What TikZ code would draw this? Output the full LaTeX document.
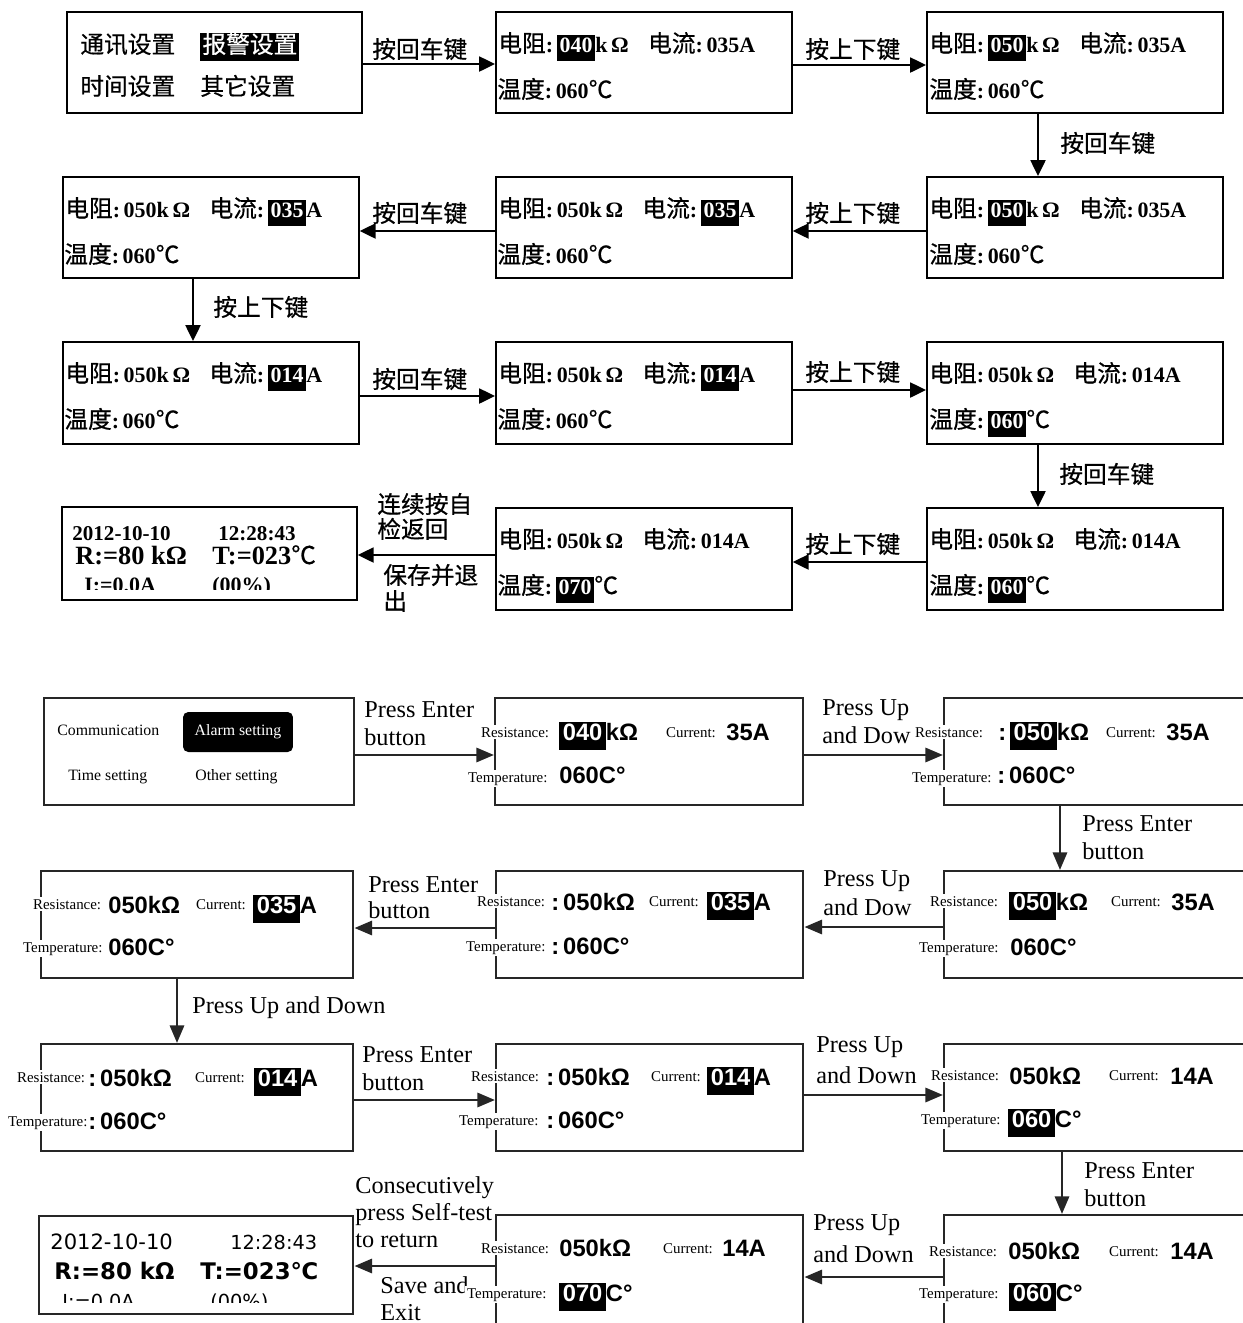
\documentclass[tikz,border=0pt]{standalone}
\usepackage{fontspec}
\setmainfont{Liberation Serif}
\newfontfamily\cjk[UprightFeatures={FakeBold=0.6}]{Noto Sans CJK SC}
\newfontfamily\lsan{Liberation Sans}
\newfontfamily\dvs{DejaVu Sans}
\usetikzlibrary{arrows.meta}
\newcommand\z[1]{{\cjk\mdseries\fontsize{13.5}{16}\selectfont #1}}
\newcommand\hl[1]{{\setlength\fboxsep{0pt}\colorbox{black}{\hspace{1.6pt}\rule[-5pt]{0pt}{14.8pt}\textcolor{white}{#1}\hspace{1.6pt}}}}
\newcommand\hlz[1]{{\setlength\fboxsep{0pt}\colorbox{black}{\hspace{1.2pt}\rule[-4.5pt]{0pt}{15.4pt}\textcolor{white}{#1}\hspace{1.2pt}}}}
\newcommand\hlb[1]{{\setlength\fboxsep{0pt}\colorbox{black}{\hspace{2pt}\rule[-5.5pt]{0pt}{15.5pt}\textcolor{white}{#1}\hspace{2pt}}}}
\newcommand\mkbox[6]{\node[#1, minimum width={(#4-#2)*0.02cm}, minimum height={(#5-#3)*0.02cm}] (#6) at (#2,#3) {};}
\begin{document}
\begin{tikzpicture}[x=0.02cm,y=-0.02cm,
 bx/.style={draw, line width=1pt, inner sep=0, anchor=north west},
 bbx/.style={draw=black!85, line width=1.4pt, inner sep=0, anchor=north west},
 arr/.style={line width=1.2pt, -{Triangle[length=9pt,width=8.5pt]}},
 barr/.style={line width=1.6pt, draw=black!85, -{Triangle[length=10pt,width=8pt]}},
 zt/.style={font=\cjk\fontsize{13.5}{16}\selectfont, inner sep=0, anchor=base west},
 zl/.style={font=\bfseries\fontsize{12.5}{15}\selectfont, inner sep=0, anchor=base west},
 el/.style={font=\fontsize{13.8}{16}\selectfont, inner sep=0, anchor=base west},
 lab/.style={font=\fontsize{8.5}{10}\selectfont, fill=white, inner sep=1pt, anchor=base west},
 val/.style={font=\lsan\bfseries\fontsize{13.5}{16}\selectfont, inner sep=0, anchor=base west},
 mt/.style={font=\fontsize{9}{11}\selectfont, inner sep=0, anchor=base west},
]
\useasboundingbox (0,0) rectangle (1243,1323);
\fill[white] (0,0) rectangle (1243,1323);
\clip (0,0) rectangle (1243,1323);

% ================= TOP HALF =================
\mkbox{bx}{66}{11}{361}{112}{t1}
\mkbox{bx}{495}{11}{791}{112}{t2}
\mkbox{bx}{926}{11}{1222}{112}{t3}
\mkbox{bx}{62}{176}{358}{277}{t4}
\mkbox{bx}{495}{176}{791}{277}{t5}
\mkbox{bx}{926}{176}{1222}{277}{t6}
\mkbox{bx}{62}{341}{358}{443}{t7}
\mkbox{bx}{495}{341}{791}{443}{t8}
\mkbox{bx}{926}{341}{1222}{443}{t9}
\mkbox{bx}{61}{506}{356}{599}{t10}
\mkbox{bx}{495}{507}{791}{609}{t11}
\mkbox{bx}{926}{507}{1222}{609}{t12}

\node[zt] (t1a) at (80,53) {通讯设置};
\node[zt] (t1b) at (200,53) {\hlz{报警设置}};
\node[zt] (t1c) at (80,95) {时间设置};
\node[zt] (t1d) at (200,95) {其它设置};

\node[zl] (t2a) at (498,52) {\z{电阻}:\,\hl{040}k\,Ω\hspace{11pt}\z{电流}:\,035A};
\node[zl] (t2b) at (497,98) {\z{温度}:\,060\z{℃}};
\node[zl] (t3a) at (929,52) {\z{电阻}:\,\hl{050}k\,Ω\hspace{11pt}\z{电流}:\,035A};
\node[zl] (t3b) at (929,98) {\z{温度}:\,060\z{℃}};

\node[zl] (t4a) at (65,217) {\z{电阻}:\,050k\,Ω\hspace{11pt}\z{电流}:\,\hl{035}A};
\node[zl] (t4b) at (64,263) {\z{温度}:\,060\z{℃}};
\node[zl] (t5a) at (498,217) {\z{电阻}:\,050k\,Ω\hspace{11pt}\z{电流}:\,\hl{035}A};
\node[zl] (t5b) at (497,263) {\z{温度}:\,060\z{℃}};
\node[zl] (t6a) at (929,217) {\z{电阻}:\,\hl{050}k\,Ω\hspace{11pt}\z{电流}:\,035A};
\node[zl] (t6b) at (929,263) {\z{温度}:\,060\z{℃}};

\node[zl] (t7a) at (65,382) {\z{电阻}:\,050k\,Ω\hspace{11pt}\z{电流}:\,\hl{014}A};
\node[zl] (t7b) at (64,428) {\z{温度}:\,060\z{℃}};
\node[zl] (t8a) at (498,382) {\z{电阻}:\,050k\,Ω\hspace{11pt}\z{电流}:\,\hl{014}A};
\node[zl] (t8b) at (497,428) {\z{温度}:\,060\z{℃}};
\node[zl] (t9a) at (929,382) {\z{电阻}:\,050k\,Ω\hspace{11pt}\z{电流}:\,014A};
\node[zl] (t9b) at (929,428) {\z{温度}:\,\hl{060}\z{℃}};

\node[zl] (t11a) at (498,548) {\z{电阻}:\,050k\,Ω\hspace{11pt}\z{电流}:\,014A};
\node[zl] (t11b) at (497,594) {\z{温度}:\,\hl{070}\z{℃}};
\node[zl] (t12a) at (929,548) {\z{电阻}:\,050k\,Ω\hspace{11pt}\z{电流}:\,014A};
\node[zl] (t12b) at (929,594) {\z{温度}:\,\hl{060}\z{℃}};

\node[font=\bfseries\fontsize{12}{14}\selectfont, inner sep=0, anchor=base west] (d1) at (72,540) {2012-10-10};
\node[font=\bfseries\fontsize{12}{14}\selectfont, inner sep=0, anchor=base west] (d2) at (218,540) {12:28:43};
\node[font=\bfseries\fontsize{15}{17}\selectfont, inner sep=0, anchor=base west] (d3) at (75,564) {R:=80 kΩ};
\node[font=\bfseries\fontsize{15}{17}\selectfont, inner sep=0, anchor=base west] (d4) at (212,564) {T:=023{\cjk\mdseries\fontsize{14}{16}\selectfont ℃}};
\begin{scope}
\clip (61,506) rectangle (356,589);
\node[font=\bfseries\fontsize{12.5}{14}\selectfont, inner sep=0, anchor=base west] (d5) at (84,592) {I:=0.0A};
\node[font=\bfseries\fontsize{12.5}{14}\selectfont, inner sep=0, anchor=base west] (d6) at (212,592) {(00\%)};
\end{scope}

\node[zt] (l1) at (372,58) {按回车键};
\node[zt] (l2) at (805,58) {按上下键};
\node[zt] (l3) at (1060,152) {按回车键};
\node[zt] (l4) at (372,222) {按回车键};
\node[zt] (l5) at (805,222) {按上下键};
\node[zt] (l6) at (213,316) {按上下键};
\node[zt] (l7) at (372,388) {按回车键};
\node[zt] (l8) at (805,381) {按上下键};
\node[zt] (l9) at (1059,483) {按回车键};
\node[zt] (l10) at (805,553) {按上下键};
\node[zt] (l11a) at (377,513) {连续按自};
\node[zt] (l11b) at (377,538) {检返回};
\node[zt] (l11c) at (383,584) {保存并退};
\node[zt] (l11d) at (383,610) {出};

\draw[arr] (t1.east |- 0,64) -- (t2.west |- 0,64);
\draw[arr] (t2.east |- 0,65) -- (t3.west |- 0,65);
\draw[arr] (t3.south -| 1038,0) -- (t6.north -| 1038,0);
\draw[arr] (t6.west |- 0,231) -- (t5.east |- 0,231);
\draw[arr] (t5.west |- 0,231) -- (t4.east |- 0,231);
\draw[arr] (t4.south -| 193,0) -- (t7.north -| 193,0);
\draw[arr] (t7.east |- 0,396) -- (t8.west |- 0,396);
\draw[arr] (t8.east |- 0,390) -- (t9.west |- 0,390);
\draw[arr] (t9.south -| 1038,0) -- (t12.north -| 1038,0);
\draw[arr] (t12.west |- 0,562) -- (t11.east |- 0,562);
\draw[arr] (t11.west |- 0,555) -- (t10.east |- 0,555);

% ================= BOTTOM HALF =================
\mkbox{bbx}{43}{697}{353}{804}{b1}
\mkbox{bbx}{494}{697}{802}{804}{b2}
\mkbox{bbx}{943}{697}{1262}{804}{b3}
\mkbox{bbx}{40}{870}{352}{977}{b4}
\mkbox{bbx}{495}{870}{802}{977}{b5}
\mkbox{bbx}{943}{870}{1262}{977}{b6}
\mkbox{bbx}{40}{1043}{352}{1150}{b7}
\mkbox{bbx}{495}{1043}{802}{1150}{b8}
\mkbox{bbx}{943}{1043}{1262}{1150}{b9}
\mkbox{bbx}{38}{1215}{352}{1313}{b10}
\mkbox{bbx}{495}{1214}{802}{1345}{b11}
\mkbox{bbx}{943}{1214}{1262}{1345}{b12}

% arrow labels
\node[el] (p1a) at (364,717) {Press Enter};
\node[el] (p1b) at (364,745) {button};
\node[el] (p2a) at (822,715) {Press Up};
\node[el] (p2b) at (822,743) {and Dow};
\node[el] (p3a) at (1082,831) {Press Enter};
\node[el] (p3b) at (1082,859) {button};
\node[el] (p4a) at (368,892) {Press Enter};
\node[el] (p4b) at (368,918) {button};
\node[el] (p5a) at (823,886) {Press Up};
\node[el] (p5b) at (823,915) {and Dow};
\node[el] (p6) at (192,1013) {Press Up and Down};
\node[el] (p7a) at (362,1062) {Press Enter};
\node[el] (p7b) at (362,1090) {button};
\node[el] (p8a) at (816,1052) {Press Up};
\node[el] (p8b) at (816,1083) {and Down};
\node[el] (p9a) at (1084,1178) {Press Enter};
\node[el] (p9b) at (1084,1206) {button};
\node[el] (p10a) at (813,1230) {Press Up};
\node[el] (p10b) at (813,1262) {and Down};
\node[el] (p11a) at (355,1193) {Consecutively};
\node[el] (p11b) at (355,1220) {press Self-test};
\node[el] (p11c) at (355,1247) {to return};
\node[el] (p12a) at (380,1293) {Save and};
\node[el] (p12b) at (380,1320) {Exit};

% menu box
\node[mt] (m1) at (57,735) {Communication};
\node[fill=black, rounded corners=3pt, minimum width=2.2cm, minimum height=0.8cm, inner sep=0, text=white, font=\fontsize{9}{11}\selectfont] (m2) at (238,732) {Alarm setting};
\node[mt] (m3) at (68,780) {Time setting};
\node[mt] (m4) at (195,780) {Other setting};

% b2
\node[lab] (b2r) at (479,737) {Resistance:};
\node[val] (b2rv) at (559,740) {\hlb{040}kΩ};
\node[lab] (b2c) at (664,737) {Current:};
\node[val] (b2cv) at (726,740) {35A};
\node[lab] (b2t) at (466,782) {Temperature:};
\node[val] (b2tv) at (559,783) {060C°};
% b3
\node[lab] (b3r) at (913,737) {Resistance:};
\node[val] (b3rv) at (998,740) {:\,\hlb{050}kΩ};
\node[lab] (b3c) at (1104,737) {Current:};
\node[val] (b3cv) at (1166,740) {35A};
\node[lab] (b3t) at (910,782) {Temperature:};
\node[val] (b3tv) at (997,783) {:\,060C°};
% b4
\node[lab] (b4r) at (31,909) {Resistance:};
\node[val] (b4rv) at (108,913) {050kΩ};
\node[lab] (b4c) at (194,909) {Current:};
\node[val] (b4cv) at (253,913) {\hlb{035}A};
\node[lab] (b4t) at (21,952) {Temperature:};
\node[val] (b4tv) at (108,955) {060C°};
% b5
\node[lab] (b5r) at (475,906) {Resistance:};
\node[val] (b5rv) at (551,910) {:\,050kΩ};
\node[lab] (b5c) at (647,906) {Current:};
\node[val] (b5cv) at (707,910) {\hlb{035}A};
\node[lab] (b5t) at (464,951) {Temperature:};
\node[val] (b5tv) at (551,954) {:\,060C°};
% b6
\node[lab] (b6r) at (928,906) {Resistance:};
\node[val] (b6rv) at (1009,910) {\hlb{050}kΩ};
\node[lab] (b6c) at (1109,906) {Current:};
\node[val] (b6cv) at (1171,910) {35A};
\node[lab] (b6t) at (917,952) {Temperature:};
\node[val] (b6tv) at (1010,955) {060C°};
% b7
\node[lab] (b7r) at (15,1082) {Resistance:};
\node[val] (b7rv) at (88,1086) {:\,050kΩ};
\node[lab] (b7c) at (193,1082) {Current:};
\node[val] (b7cv) at (254,1086) {\hlb{014}A};
\node[lab] (b7t) at (6,1126) {Temperature:};
\node[val] (b7tv) at (88,1129) {:\,060C°};
% b8
\node[lab] (b8r) at (469,1081) {Resistance:};
\node[val] (b8rv) at (546,1085) {:\,050kΩ};
\node[lab] (b8c) at (649,1081) {Current:};
\node[val] (b8cv) at (707,1085) {\hlb{014}A};
\node[lab] (b8t) at (457,1125) {Temperature:};
\node[val] (b8tv) at (546,1128) {:\,060C°};
% b9
\node[lab] (b9r) at (929,1080) {Resistance:};
\node[val] (b9rv) at (1009,1084) {050kΩ};
\node[lab] (b9c) at (1107,1080) {Current:};
\node[val] (b9cv) at (1170,1084) {14A};
\node[lab] (b9t) at (919,1124) {Temperature:};
\node[val] (b9tv) at (1008,1127) {\hlb{060}C°};
% b10
\node[font=\dvs\fontsize{12}{14}\selectfont, inner sep=0, anchor=base west] (e1) at (50,1249) {2012-10-10};
\node[font=\dvs\fontsize{11}{13}\selectfont, inner sep=0, anchor=base west] (e2) at (230,1249) {12:28:43};
\node[font=\dvs\bfseries\fontsize{13}{16}\selectfont, inner sep=0, anchor=base west] (e3) at (54,1279) {R:=80 kΩ};
\node[font=\dvs\bfseries\fontsize{13}{16}\selectfont, inner sep=0, anchor=base west] (e4) at (200,1279) {T:=023℃};
\begin{scope}
\clip (38,1215) rectangle (352,1302);
\node[font=\dvs\fontsize{11}{13}\selectfont, inner sep=0, anchor=base west] (e5) at (62,1308) {I:=0.0A};
\node[font=\dvs\fontsize{11}{13}\selectfont, inner sep=0, anchor=base west] (e6) at (210,1308) {(00\%)};
\end{scope}
% b11
\node[lab] (b11r) at (479,1253) {Resistance:};
\node[val] (b11rv) at (559,1256) {050kΩ};
\node[lab] (b11c) at (661,1253) {Current:};
\node[val] (b11cv) at (722,1256) {14A};
\node[lab] (b11t) at (465,1298) {Temperature:};
\node[val] (b11tv) at (559,1301) {\hlb{070}C°};
% b12
\node[lab] (b12r) at (927,1256) {Resistance:};
\node[val] (b12rv) at (1008,1259) {050kΩ};
\node[lab] (b12c) at (1107,1256) {Current:};
\node[val] (b12cv) at (1170,1259) {14A};
\node[lab] (b12t) at (917,1298) {Temperature:};
\node[val] (b12tv) at (1009,1301) {\hlb{060}C°};

\draw[barr] (b1.east |- 0,755) -- (b2.west |- 0,755);
\draw[barr] (b2.east |- 0,755) -- (b3.west |- 0,755);
\draw[barr] (b3.south -| 1060,0) -- (b6.north -| 1060,0);
\draw[barr] (b6.west |- 0,927) -- (b5.east |- 0,927);
\draw[barr] (b5.west |- 0,928) -- (b4.east |- 0,928);
\draw[barr] (b4.south -| 177,0) -- (b7.north -| 177,0);
\draw[barr] (b7.east |- 0,1100) -- (b8.west |- 0,1100);
\draw[barr] (b8.east |- 0,1095) -- (b9.west |- 0,1095);
\draw[barr] (b9.south -| 1062,0) -- (b12.north -| 1062,0);
\draw[barr] (b12.west |- 0,1277) -- (b11.east |- 0,1277);
\draw[barr] (b11.west |- 0,1266) -- (b10.east |- 0,1266);
\end{tikzpicture}
\end{document}
